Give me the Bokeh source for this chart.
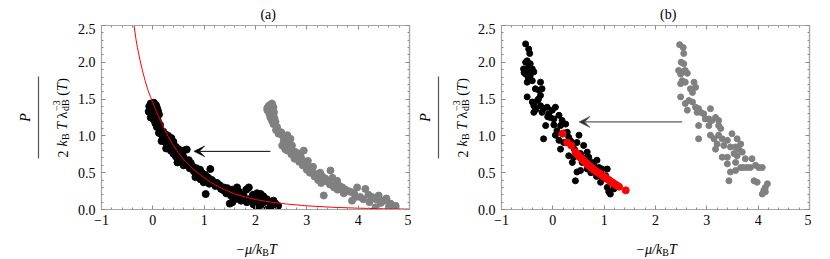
from math import pi
from bokeh.plotting import figure
from bokeh.layouts import row, column
from bokeh.models import Label, Arrow, VeeHead, FixedTicker, LinearAxis
from bokeh.embed import file_html
from bokeh.resources import INLINE

FONT = "Liberation Serif"
FRAME = "#a6a6a6"
TICK = "#8a8a8a"

X_TICKS = [-1, 0, 1, 2, 3, 4, 5]
X_TICK_LABELS = ["\u22121", "0", "1", "2", "3", "4", "5"]
Y_TICKS = [0.0, 0.5, 1.0, 1.5, 2.0, 2.5]
Y_TICK_LABELS = ["0.0", "0.5", "1.0", "1.5", "2.0", "2.5"]

# ---- panel (a) data ----
a_black_x = [-0.04, 0.02, 0.06, -0.07, 0.0, 0.08, -0.05, 0.03, 0.10, -0.08, -0.02, 0.05, 0.12, 0.00, -0.04, 0.07, 0.02, 0.10, 0.05, 0.14,
             0.08, 0.15, 0.20, 0.12, 0.18, 0.25, 0.30, 0.22, 0.28, 0.36, 0.17, 0.25, 0.32, 0.40, 0.30, 0.38, 0.45, 0.26, 0.35, 0.42,
             0.50, 0.66, 0.40, 0.48, 0.55, 0.60, 0.45, 0.52, 0.60, 0.55, 0.63, 0.70, 0.48, 0.67, 0.74, 0.60, 0.78, 0.72, 0.85, 0.92,
             0.80, 1.12, 0.95, 0.88, 1.02, 0.83, 0.97, 1.08, 0.93, 1.05, 1.15, 0.99, 1.19, 1.10, 1.25, 1.30, 1.03, 1.22, 1.38, 1.33,
             1.45, 1.38, 1.48, 1.55, 1.64, 1.43, 1.58, 1.68, 1.71, 1.77, 1.52, 1.62, 1.87, 1.82, 1.64, 1.55, 1.50, 1.72, 1.90, 1.95,
             2.03, 2.10, 2.15, 1.83, 2.03, 2.16, 2.22, 2.29, 2.35, 2.39, 2.44, 2.03, 2.23, 1.96, 2.10, 2.30]
a_black_y = [1.44, 1.45, 1.42, 1.40, 1.39, 1.38, 1.36, 1.35, 1.34, 1.33, 1.31, 1.30, 1.29, 1.27, 1.25, 1.24, 1.22, 1.20, 1.17, 1.15,
             1.12, 1.09, 1.06, 1.04, 1.01, 1.02, 1.00, 0.97, 0.95, 0.97, 0.93, 0.91, 0.90, 0.92, 0.86, 0.86, 0.85, 0.83, 0.80, 0.80,
             0.82, 0.815, 0.76, 0.77, 0.76, 0.80, 0.72, 0.70, 0.71, 0.66, 0.66, 0.67, 0.64, 0.61, 0.63, 0.60, 0.58, 0.56, 0.56, 0.54,
             0.52, 0.55, 0.50, 0.48, 0.47, 0.44, 0.45, 0.43, 0.41, 0.39, 0.40, 0.37, 0.37, 0.35, 0.36, 0.33, 0.21, 0.32, 0.30, 0.28,
             0.29, 0.26, 0.25, 0.27, 0.30, 0.22, 0.22, 0.24, 0.20, 0.19, 0.19, 0.18, 0.30, 0.27, 0.145, 0.10, 0.08, 0.12, 0.145, 0.20,
             0.22, 0.21, 0.18, 0.10, 0.145, 0.10, 0.14, 0.10, 0.12, 0.077, 0.05, 0.01, 0.00, 0.07, 0.06, 0.04]

a_gray_x = [2.26, 2.32, 2.29, 2.23, 2.35, 2.23, 2.30, 2.36, 2.27, 2.33, 2.29, 2.37, 2.32, 2.39, 2.35, 2.42, 2.40, 2.45, 2.50, 2.52,
            2.62, 2.56, 2.68, 2.55, 2.60, 2.64, 2.52, 2.71, 2.58, 2.66, 2.62, 2.78, 2.94, 2.72, 2.70, 2.85, 2.81, 2.76, 2.88, 2.91,
            2.85, 2.97, 3.02, 2.92, 3.04, 3.00, 3.12, 3.10, 3.06, 3.20, 3.15, 3.26, 3.30, 3.36, 3.46, 3.22, 3.40, 3.28, 3.50, 3.59,
            3.45, 3.55, 3.53, 3.64, 3.69, 3.33, 3.60, 3.75, 3.80, 3.85, 3.72, 3.92, 3.98, 4.14, 3.88, 3.95, 4.04, 4.10, 4.20, 4.27,
            4.40, 4.35, 4.50, 4.44, 4.34, 4.55, 4.63, 4.73, 4.60, 4.22]
a_gray_y = [1.41, 1.44, 1.42, 1.38, 1.39, 1.35, 1.36, 1.32, 1.30, 1.28, 1.25, 1.24, 1.21, 1.19, 1.16, 1.12, 1.08, 1.03, 1.05, 1.01,
            1.01, 0.99, 0.96, 0.94, 0.92, 0.90, 0.87, 0.87, 0.82, 0.84, 0.80, 0.78, 0.80, 0.80, 0.75, 0.76, 0.71, 0.69, 0.72, 0.67,
            0.65, 0.62, 0.66, 0.60, 0.57, 0.54, 0.58, 0.53, 0.50, 0.48, 0.45, 0.50, 0.45, 0.42, 0.53, 0.40, 0.38, 0.36, 0.43, 0.39,
            0.34, 0.33, 0.30, 0.32, 0.30, 0.19, 0.27, 0.27, 0.25, 0.24, 0.22, 0.22, 0.30, 0.28, 0.12, 0.17, 0.17, 0.14, 0.20, 0.17,
            0.19, 0.14, 0.12, 0.09, 0.03, 0.15, 0.08, 0.05, 0.04, 0.10]

a_curve_x = [-0.37, -0.33, -0.30, -0.25, -0.20, -0.15, -0.10, -0.05, 0.0, 0.1, 0.2, 0.3, 0.4, 0.5, 0.6, 0.7, 0.8, 1.0, 1.2, 1.4,
             1.6, 1.8, 2.0, 2.3, 2.6, 3.0, 3.5, 4.0, 4.5, 5.0]
a_curve_y = [2.52, 2.32, 2.20, 2.03, 1.88, 1.75, 1.63, 1.54, 1.45, 1.28, 1.13, 0.99, 0.87, 0.77, 0.68, 0.61, 0.54, 0.43, 0.34, 0.27,
             0.21, 0.17, 0.135, 0.10, 0.075, 0.05, 0.03, 0.018, 0.01, 0.005]

a_arrow = dict(x_start=2.29, y_start=0.79, x_end=0.80, y_end=0.79)

# ---- panel (b) data ----
b_black_x = [-0.53, -0.47, -0.45, -0.50, -0.53, -0.44, -0.57, -0.50, -0.40, -0.53, -0.44, -0.37, -0.56, -0.47, -0.50, -0.40, -0.24, -0.34,
             -0.27, -0.21, -0.24, -0.50, -0.40, -0.30, -0.37, -0.24, -0.18, -0.11, -0.37, -0.21, -0.08, -0.01, 0.05, -0.05, 0.02, 0.12,
             0.18, 0.25, 0.15, -0.14, 0.02, -0.18, 0.05, 0.12, 0.21, 0.28, 0.31, 0.15, 0.38, 0.51, 0.47, 0.60, 0.31, 0.41, 0.54, 0.67,
             0.70, 0.38, 0.57, 0.77, 0.86, 0.54, 0.47, 0.90, 0.96, 1.06, 0.44, 0.67, 0.93, 1.03, 0.93, 1.16, 1.09, 1.12, 1.19, 1.06,
             -0.33, -0.10, 0.08, 0.22, 0.42, 0.62, 0.80, 0.74, 1.00, 0.85, -0.48, -0.28, 0.35]
b_black_y = [2.25, 2.18, 2.12, 2.02, 2.00, 1.98, 1.91, 1.89, 1.91, 1.84, 1.82, 1.87, 1.86, 1.93, 1.73, 1.75, 1.73, 1.64,
             1.62, 1.64, 1.55, 1.53, 1.46, 1.48, 1.41, 1.41, 1.37, 1.39, 1.32, 1.32, 1.30, 1.35, 1.39, 1.25, 1.23, 1.28,
             1.21, 1.16, 1.14, 1.14, 1.15, 0.96, 1.01, 0.94, 0.91, 1.05, 0.98, 0.82, 0.87, 1.01, 0.91, 0.87, 0.73, 0.71, 0.76, 0.78,
             0.71, 0.64, 0.64, 0.64, 0.67, 0.53, 0.51, 0.57, 0.55, 0.55, 0.39, 0.55, 0.46, 0.46, 0.37, 0.37, 0.24, 0.21, 0.28, 0.30,
             1.36, 1.26, 1.07, 1.04, 0.82, 0.70, 0.60, 0.50, 0.42, 0.45, 1.79, 1.50, 0.93]

b_gray_x = [2.47, 2.54, 2.55, 2.50, 2.55, 2.45, 2.52, 2.58, 2.49, 2.62, 2.52, 2.49, 2.58, 2.75, 2.78, 2.68, 2.72, 2.49, 2.65, 2.72,
            2.58, 2.62, 2.78, 2.84, 2.88, 2.81, 2.94, 3.07, 2.97, 3.04, 3.17, 3.10, 3.23, 2.84, 3.04, 3.23, 3.27, 2.84, 3.07, 3.14,
            3.23, 3.30, 3.40, 3.49, 3.59, 3.66, 3.20, 3.33, 3.46, 3.17, 3.56, 3.62, 3.53, 3.59, 3.69, 3.30, 3.40, 3.75, 3.88, 3.40,
            3.56, 3.66, 3.72, 3.79, 3.85, 3.95, 4.01, 4.08, 3.46, 3.56, 3.43, 3.92, 3.98, 4.18, 4.14, 4.11, 4.08, 4.14]
b_gray_y = [2.24, 2.20, 2.12, 2.00, 1.98, 1.89, 1.87, 1.89, 1.84, 1.85, 1.75, 1.71, 1.73, 1.73, 1.66, 1.64, 1.59, 1.53, 1.48, 1.46,
            1.44, 1.35, 1.39, 1.37, 1.32, 1.32, 1.30, 1.37, 1.23, 1.23, 1.25, 1.21, 1.21, 1.14, 1.14, 1.14, 1.10, 0.96, 1.01, 0.96,
            1.01, 0.96, 0.94, 1.03, 0.96, 0.89, 0.89, 0.87, 0.85, 0.82, 0.85, 0.82, 0.76, 0.73, 0.78, 0.71, 0.71, 0.69, 0.69, 0.62,
            0.64, 0.57, 0.57, 0.57, 0.57, 0.60, 0.57, 0.57, 0.51, 0.53, 0.39, 0.39, 0.37, 0.35, 0.30, 0.26, 0.21, 0.24]

b_red_x = [0.19, 0.28, 0.36, 0.44, 0.47, 0.50, 0.53, 0.56, 0.59, 0.62, 0.65, 0.68, 0.71, 0.74, 0.77, 0.80, 0.83, 0.86, 0.89, 0.92,
           0.95, 0.98, 1.01, 1.04, 1.07, 1.10, 1.13, 1.16, 1.19, 1.22, 1.25, 1.29, 1.42]
b_red_y = [1.03, 0.91, 0.87, 0.78, 0.755, 0.735, 0.71, 0.69, 0.67, 0.65, 0.63, 0.61, 0.595, 0.575, 0.56, 0.54, 0.525, 0.51, 0.50, 0.485,
           0.47, 0.455, 0.44, 0.425, 0.41, 0.395, 0.38, 0.365, 0.35, 0.34, 0.325, 0.31, 0.26]

b_arrow = dict(x_start=2.52, y_start=1.19, x_end=0.51, y_end=1.19)

# ---- layout geometry (pixels) ----
COL_W = 340
BORDER_L = 30
BORDER_R = 2
TITLE_H = 23
PLOT_H = 211
BORDER_T = 2
BORDER_B = 25
XLAB_H = 24
TOTAL_H = TITLE_H + PLOT_H + XLAB_H


def text_fig(w, h):
    f = figure(width=w, height=h, x_range=(0, w), y_range=(0, h), output_backend="svg",
               toolbar_location=None, min_border=0, x_axis_type=None, y_axis_type=None,
               title_location=None)
    f.outline_line_color = None
    return f


def txt(f, s, x, y, size=14, style="normal", align="left", angle=0.0):
    f.add_layout(Label(x=x, y=y, text=s, text_font=FONT, text_font_size=f"{size}px",
                       text_font_style=style, text_align=align, text_baseline="alphabetic",
                       angle=angle, text_color="black"))


def frame_axis(ticks, minor, labels=None, minor_in=2):
    ax = LinearAxis(ticker=FixedTicker(ticks=ticks, minor_ticks=minor))
    ax.axis_line_color = FRAME
    ax.axis_line_width = 1.2
    ax.major_tick_line_color = TICK
    ax.minor_tick_line_color = TICK
    ax.major_tick_in = 4
    ax.major_tick_out = 0
    ax.minor_tick_in = minor_in
    ax.minor_tick_out = 0
    if labels is not None:
        ax.major_label_overrides = {t: l for t, l in zip(ticks, labels)}
        ax.major_label_text_font = FONT
        ax.major_label_text_font_size = "14px"
        ax.major_label_text_color = "black"
    return ax


def make_plot():
    p = figure(width=COL_W, height=PLOT_H, x_range=(-1, 5), y_range=(0, 2.5),
               output_backend="svg", toolbar_location=None, title_location=None,
               min_border_left=BORDER_L, min_border_right=BORDER_R,
               min_border_top=BORDER_T, min_border_bottom=BORDER_B,
               x_axis_type=None, y_axis_type=None)
    p.outline_line_color = None
    xminor = [i / 5 for i in range(-5, 26)]
    yminor = [i / 10 for i in range(0, 26)]
    bottom = frame_axis(X_TICKS, xminor, X_TICK_LABELS)
    bottom.major_label_standoff = 5
    left = frame_axis(Y_TICKS, yminor, Y_TICK_LABELS)
    left.major_label_standoff = 6
    p.add_layout(bottom, "below")
    p.add_layout(left, "left")
    p.add_layout(frame_axis([], xminor, minor_in=2), "above")
    p.add_layout(frame_axis([], X_TICKS, minor_in=4), "above")
    p.add_layout(frame_axis([], yminor, minor_in=2), "right")
    p.add_layout(frame_axis([], Y_TICKS, minor_in=4), "right")
    return p


def title_fig(title):
    f = text_fig(COL_W, TITLE_H)
    txt(f, title, BORDER_L + 154, 9, align="center")
    return f


def xlabel_fig():
    f = text_fig(COL_W, XLAB_H)
    sx = BORDER_L + 118
    by = 9
    txt(f, "\u2212\u03bc/k", sx, by, style="italic")
    txt(f, "B", sx + 29.5, by - 3, size=10)
    txt(f, "T", sx + 37, by, style="italic")
    return f


def ylabel_fig(w, offset):
    f = text_fig(w, TOTAL_H)
    a = pi / 2
    cy = TOTAL_H - 117
    base = TOTAL_H - 157
    bx = offset - 39
    txt(f, "P", offset - 76, cy, style="italic", align="center", angle=a)
    txt(f, "2", bx, base + 0, angle=a)
    txt(f, "k", bx, base + 11, style="italic", angle=a)
    txt(f, "B", bx + 3, base + 17.5, size=10, angle=a)
    txt(f, "T", bx, base + 27.7, style="italic", angle=a)
    txt(f, "\u03bb", bx, base + 39, angle=a)
    txt(f, "dB", bx + 3, base + 46.6, size=10, angle=a)
    txt(f, "\u22123", bx - 6, base + 46.6, size=10, angle=a)
    txt(f, "(", bx, base + 61.8, angle=a)
    txt(f, "T", bx, base + 66.5, style="italic", angle=a)
    txt(f, ")", bx, base + 74.8, angle=a)
    f.line([offset - 63, offset - 63], [TOTAL_H - 158, TOTAL_H - 76], line_color="#555555", line_width=1.2)
    return f


pa = make_plot()
pa.scatter(a_gray_x, a_gray_y, size=7, color="#808080")
pa.scatter(a_black_x, a_black_y, size=7, color="black")
pa.line(a_curve_x, a_curve_y, line_color="red", line_width=1)
pa.add_layout(Arrow(end=VeeHead(size=11, fill_color="black", line_color="black", line_width=0.5),
                    line_color="black", line_width=1, **a_arrow))

pb = make_plot()
pb.scatter(b_gray_x, b_gray_y, size=6, color="#808080")
pb.scatter(b_black_x, b_black_y, size=6, color="black")
pb.scatter(b_red_x, b_red_y, size=7, color="red")
pb.add_layout(Arrow(end=VeeHead(size=11, fill_color="#333333", line_color="#333333", line_width=0.5),
                    line_color="#333333", line_width=1, **b_arrow))

layout = row(
    ylabel_fig(71, 71 + BORDER_L),
    column(title_fig("(a)"), pa, xlabel_fig()),
    ylabel_fig(60, 60 + BORDER_L),
    column(title_fig("(b)"), pb, xlabel_fig()),
)
open("out.html", "w").write(file_html(layout, INLINE))
